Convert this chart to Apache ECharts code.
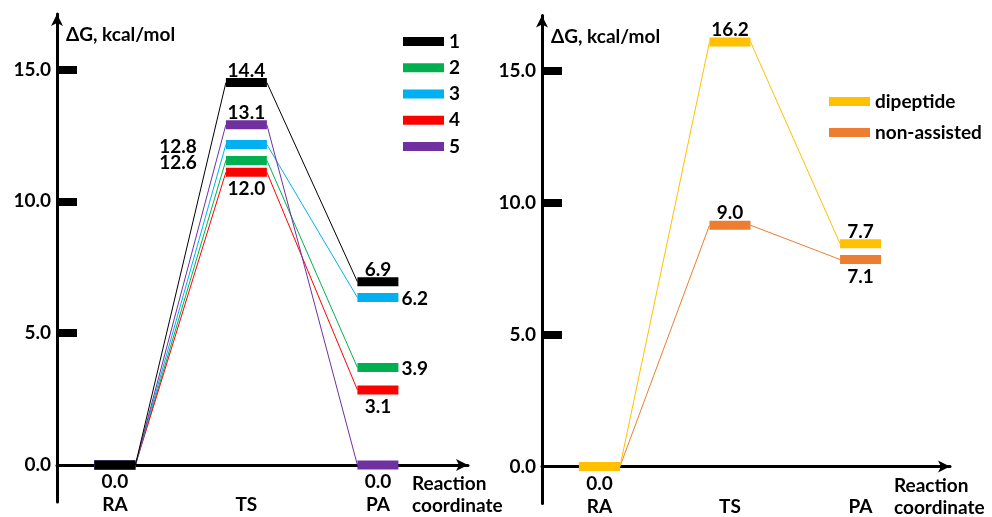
<!DOCTYPE html>
<html>
<head>
<meta charset="utf-8">
<script src="https://cdn.jsdelivr.net/npm/echarts@6/dist/echarts.min.js"></script>
<style>
  html, body { margin: 0; padding: 0; background: #fff; }
  #chart { width: 992px; height: 517px; }
</style>
</head>
<body>
<div id="chart"></div>
<script>
// stages along the reaction coordinate
var stages = ['RA', 'TS', 'PA'];
var yTicks = [0, 5, 10, 15];

// where each level is drawn (the figure nudges some bars away from their printed value)
var levels1 = [0, 14.5, 6.95];
var levels2 = [0, 11.55, 3.7];
var levels3 = [0, 12.15, 6.35];
var levels4 = [0, 11.1, 2.85];
var levels5 = [0, 12.9, 0];
// printed values (null = not printed)
var labels1 = [0.0, 14.4, 6.9];
var labels2 = [null, 12.6, 3.9];
var labels3 = [null, 12.8, 6.2];
var labels4 = [null, 12.0, 3.1];
var labels5 = [null, 13.1, 0.0];

var levelsDipeptide = [0, 16.1, 8.45];
var levelsNonAssisted = [0, 9.15, 7.85];
var labelsDipeptide = [0.0, 16.2, 7.7];
var labelsNonAssisted = [null, 9.0, 7.1];

var FONT = 'Lato';
var FS = 19;

var myChart = echarts.init(document.getElementById('chart'));

// draws one level bar, the thin connector to the next stage and the value text
function makeRender(levels, labels, spots, color) {
  return function (params, api) {
    var i = params.dataIndex;
    var c = api.coord([api.value(0), api.value(1)]);
    var half = 20.5;
    var kids = [];
    if (i + 1 < levels.length) {
      var n = api.coord([i + 2, levels[i + 1]]);
      kids.push({
        type: 'line', z2: 1,
        shape: { x1: c[0] + half, y1: c[1], x2: n[0] - half, y2: n[1] },
        style: { stroke: color, lineWidth: 1 }
      });
    }
    kids.push({
      type: 'rect', z2: 2,
      shape: { x: c[0] - half, y: c[1] - 4.5, width: half * 2, height: 9 },
      style: { fill: color }
    });
    if (labels[i] != null) {
      var s = spots[i], tx = c[0], ty = c[1], al = 'center';
      if (s === 'top') ty -= 12;
      else if (s === 'bottom') ty += 17;
      else if (s === 'right') { tx += half + 3; al = 'left'; ty += 1; }
      else if (s === 'left') { tx -= half + 29; al = 'right'; ty += 2; }
      kids.push({
        type: 'text', z2: 3, x: tx, y: ty,
        style: {
          text: labels[i].toFixed(1), fill: '#000',
          font: 'bold ' + FS + 'px ' + FONT, align: al, verticalAlign: 'middle'
        }
      });
    }
    return { type: 'group', children: kids };
  };
}

function levelSeries(name, levels, labels, spots, color, axis, z) {
  return {
    type: 'custom',
    name: name,
    xAxisIndex: axis,
    yAxisIndex: axis,
    z: z,
    itemStyle: { color: color },
    data: levels.map(function (v, i) { return [i + 1, v]; }),
    renderItem: makeRender(levels, labels, spots, color)
  };
}

function xAxisFor(g) {
  return {
    type: 'value', gridIndex: g, min: 0.56, max: 3.685,
    splitLine: { show: false },
    axisLine: {
      onZero: true,
      lineStyle: { color: '#000', width: 3 },
      symbol: ['none', 'arrow'], symbolSize: [9, 12]
    },
    axisTick: { show: false },
    axisLabel: {
      customValues: [1, 2, 3],
      formatter: function (v) { return stages[Math.round(v) - 1]; },
      color: '#000', fontFamily: FONT, fontWeight: 'bold', fontSize: FS,
      lineHeight: 20, margin: -7
    },
    name: 'Reaction\ncoordinate',
    nameLocation: 'end',
    nameGap: -56,
    nameTextStyle: {
      color: '#000', fontFamily: FONT, fontWeight: 'bold', fontSize: FS,
      align: 'left', verticalAlign: 'top', lineHeight: 22, padding: [8, 0, 0, 0]
    }
  };
}

function yAxisFor(g) {
  return {
    type: 'value', gridIndex: g, min: -1.4, max: 17.1,
    splitLine: { show: false },
    axisLine: {
      show: true, onZero: false,
      lineStyle: { color: '#000', width: 3 },
      symbol: ['none', 'arrow'], symbolSize: [9, 12]
    },
    axisTick: {
      show: true, inside: true, length: 20, customValues: [5, 10, 15],
      lineStyle: { color: '#000', width: 8 }
    },
    axisLabel: {
      customValues: yTicks,
      formatter: function (v) { return v.toFixed(1); },
      color: '#000', fontFamily: FONT, fontWeight: 'bold', fontSize: FS, margin: 6
    },
    name: '\u0394G, kcal/mol',
    nameLocation: 'end',
    nameGap: -21,
    nameTextStyle: {
      color: '#000', fontFamily: FONT, fontWeight: 'bold', fontSize: FS,
      align: 'left', verticalAlign: 'middle', padding: [0, 0, 0, 9]
    }
  };
}

var legendText = { color: '#000', fontFamily: FONT, fontWeight: 'bold', fontSize: FS, lineHeight: 18 };

var option = {
  animation: false,
  grid: [
    { left: 57, top: 14, width: 411, height: 488, outerBoundsMode: 'none' },
    { left: 542, top: 15.5, width: 408, height: 488, outerBoundsMode: 'none' }
  ],
  legend: [
    {
      data: ['1', '2', '3', '4', '5'], orient: 'vertical', left: 398, top: 27,
      icon: 'rect', itemWidth: 41, itemHeight: 9, itemGap: 7.25,
      textStyle: legendText, selectedMode: false
    },
    {
      data: ['dipeptide', 'non-assisted'], orient: 'vertical', left: 824, top: 87,
      icon: 'rect', itemWidth: 41, itemHeight: 9, itemGap: 12,
      textStyle: legendText, selectedMode: false
    }
  ],
  xAxis: [xAxisFor(0), xAxisFor(1)],
  yAxis: [yAxisFor(0), yAxisFor(1)],
  series: [
    levelSeries('2', levels2, labels2, [null, 'left', 'right'], '#00b050', 0, 2),
    levelSeries('3', levels3, labels3, [null, 'left', 'right'], '#00b0f0', 0, 3),
    levelSeries('4', levels4, labels4, [null, 'bottom', 'bottom'], '#ff0000', 0, 2),
    levelSeries('5', levels5, labels5, [null, 'top', 'bottom'], '#7030a0', 0, 4),
    levelSeries('1', levels1, labels1, ['bottom', 'top', 'top'], '#000000', 0, 5),
    levelSeries('non-assisted', levelsNonAssisted, labelsNonAssisted, [null, 'top', 'bottom'], '#ed7d31', 1, 2),
    levelSeries('dipeptide', levelsDipeptide, labelsDipeptide, ['bottom', 'top', 'top'], '#ffc000', 1, 3)
  ]
};

myChart.setOption(option);
</script>
</body>
</html>
